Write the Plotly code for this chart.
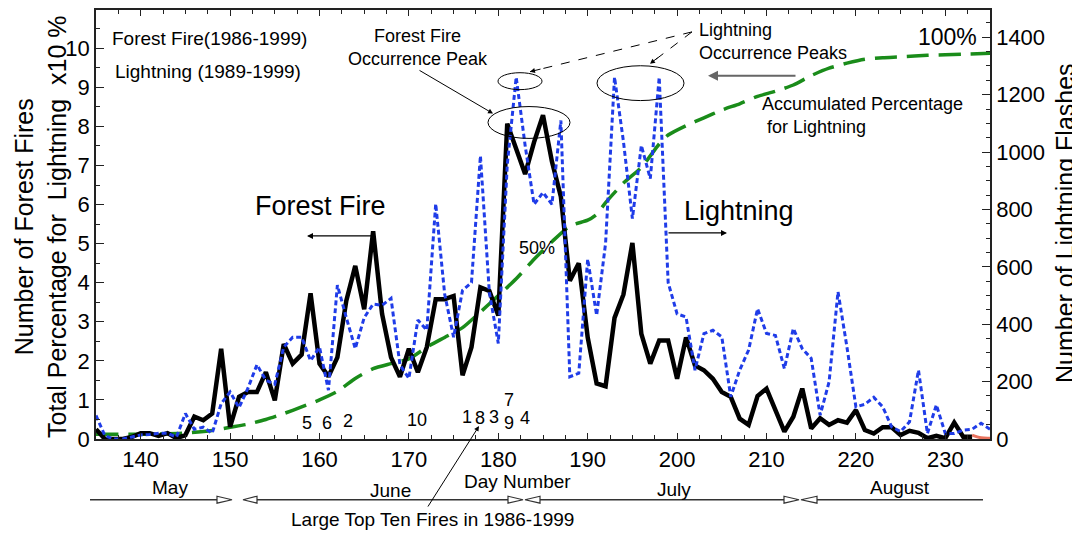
import plotly.graph_objects as go

# ---------------- data ----------------
fire_days = list(range(135, 234))
forest_fires = [0.25, 0.0, 0.0, 0.0, 0.05, 0.15, 0.15, 0.08, 0.15, 0.02,
                0.1, 0.57, 0.48, 0.65, 2.31, 0.31, 1.08, 1.2, 1.2, 1.71,
                0.99, 2.43, 1.93, 2.16, 3.73, 1.93, 1.6, 2.09, 3.54, 4.43,
                3.32, 5.32, 3.2, 2.09, 1.59, 2.31, 1.71, 2.35, 3.58, 3.58,
                3.66, 1.63, 2.35, 3.88, 3.79, 3.16, 8.07, 7.45, 6.78, 7.6,
                8.29, 7.1, 6.2, 4.05, 4.5, 2.6, 1.42, 1.35, 3.1, 3.7,
                5.02, 2.69, 1.93, 2.52, 2.52, 1.54, 2.6, 1.88, 1.76, 1.54,
                1.2, 1.08, 0.52, 0.36, 1.1, 1.29, 0.75, 0.19, 0.57, 1.29,
                0.27, 0.53, 0.36, 0.48, 0.42, 0.74, 0.23, 0.14, 0.3, 0.3,
                0.1, 0.21, 0.16, 0.02, 0.08, 0.02, 0.42, 0.06, 0.06]

lightning_days = list(range(135, 236))
lightning_flashes = [82, 11, 0, 0, 7, 14, 16, 20, 20, 7,
                     89, 34, 41, 20, 123, 164, 109, 177, 259, 205,
                     191, 320, 355, 355, 273, 320, 170, 536, 423, 315,
                     423, 470, 466, 490, 259, 211, 415, 379, 820, 505,
                     355, 518, 545, 987, 511, 333, 955, 1261, 1023, 818,
                     859, 818, 1110, 217, 229, 627, 431, 682, 1261, 1036,
                     768, 1023, 907, 1261, 545, 436, 425, 240, 367, 379,
                     356, 147, 240, 310, 454, 368, 361, 245, 385, 315,
                     281, 83, 199, 513, 320, 112, 121, 145, 112, 42,
                     26, 60, 240, 19, 119, 19, 19, 31, 34, 55,
                     34]

cum_days = [135, 140, 145, 148, 150, 152, 154, 156, 158, 160, 162, 164, 166, 168, 170,
            172, 174, 176, 178, 180, 182, 184, 186, 188, 190, 191, 192, 194, 196, 198,
            199, 201, 203, 205, 207, 209, 211, 213, 215, 217, 219, 221, 223, 225, 228,
            232, 235]
cum_pct = [1.2, 1.2, 1.5, 2.2, 3.0, 3.8, 5.0, 6.5, 8.2, 10.0, 12.2, 15.5, 18.0, 19.3, 20.5,
           23.5, 26.0, 28.5, 32.5, 36.7, 41.0, 46.0, 50.5, 54.5, 56.0, 57.5, 60.5, 65.5, 69.5, 75.5,
           77.8, 80.2, 82.2, 84.2, 85.8, 87.7, 89.0, 90.6, 93.0, 94.9, 96.2, 97.2, 97.6, 97.8, 98.2,
           98.5, 98.7]

tail_days = [233, 234, 235]
tail_vals = [0.1, 0.03, 0.02]

top_ten_labels = ["5", "6", "2", "10", "1", "8", "3", "7", "9", "4"]
month_labels = ["May", "June", "July", "August"]

# ---------------- figure ----------------
FONT = "Liberation Sans, Arial, sans-serif"
fig = go.Figure()

fig.add_trace(go.Scatter(x=cum_days, y=[p / 10 for p in cum_pct], mode="lines",
                         line=dict(color="#1a8c1a", width=3.5, dash="22px,10px", shape="spline", smoothing=0.6),
                         hoverinfo="skip"))
fig.add_trace(go.Scatter(x=lightning_days, y=lightning_flashes, mode="lines", yaxis="y2",
                         line=dict(color="#1f3ce8", width=3, dash="5px,3px")))
fig.add_trace(go.Scatter(x=fire_days, y=forest_fires, mode="lines",
                         line=dict(color="black", width=4.5)))
fig.add_trace(go.Scatter(x=tail_days, y=tail_vals, mode="lines",
                         line=dict(color="#e8735e", width=3, shape="spline")))

# reference-pixel -> paper helper (plot area in the reference: x 96..990, y 8..439)
def P(x, y):
    return (x - 96) / 894, (439 - y) / 431

def txt(s, x, y, size, xanchor="center", align="center", angle=0):
    px_, py_ = P(x, y)
    return dict(text=s, x=px_, y=py_, xref="paper", yref="paper", showarrow=False,
                xanchor=xanchor, yanchor="middle", align=align, textangle=angle,
                font=dict(size=size, family=FONT, color="black"))

def arrow(tail, tip, color="black", width=1.2, head=2, size=1.0):
    x, y = P(*tip)
    return dict(x=x, y=y, xref="paper", yref="paper", ax=tail[0] - tip[0], ay=tail[1] - tip[1],
                axref="pixel", ayref="pixel", text="", showarrow=True, arrowhead=head,
                arrowsize=size, arrowwidth=width, arrowcolor=color, standoff=0, startstandoff=0)

ann = []
ann.append(txt("Number of Forest Fires<br>Total Percentage for\u00a0\u00a0Lightning\u00a0\u00a0x10 %", 41, 226, 25, angle=-90))
ann.append(txt("Number of Lightning Flashes", 1065, 222, 25, angle=-90))
ann.append(txt("Forest Fire(1986-1999)", 110, 37, 19, xanchor="left"))
ann.append(txt("Lightning (1989-1999)", 113, 70, 19, xanchor="left"))
ann.append(txt("Forest Fire<br>Occurrence Peak", 418, 46, 18))
ann.append(txt("Lightning<br>Occurrence Peaks", 697, 40, 18, xanchor="left", align="left"))
ann.append(txt("Accumulated Percentage<br>\u00a0for Lightning", 760, 114, 18, xanchor="left", align="left"))
ann.append(txt("100%", 979, 35, 23, xanchor="right"))
ann.append(txt("Forest Fire", 320, 205, 27))
ann.append(txt("Lightning", 739, 210, 27))
ann.append(txt("50%", 537, 247, 18))
rank_pos = [(307, 423), (327, 423), (348, 421), (417, 420), (467, 417), (480, 418),
            (494, 417), (509, 400), (509, 423), (525, 418)]
for lab, (x, y) in zip(top_ten_labels, rank_pos):
    ann.append(txt(lab, x, y, 18))
ann.append(txt("Day Number", 517, 482, 19))
for lab, (x, y) in zip(month_labels, [(170, 488), (390, 491), (674, 490), (900, 488)]):
    ann.append(txt(lab, x, y, 19))
ann.append(txt("Large Top Ten Fires in 1986-1999", 432, 520, 19))

# arrows
ann.append(arrow((373, 235), (307, 235)))
ann.append(arrow((667, 232), (727, 232)))
ann.append(arrow((797, 74), (708, 74), color="#666666", width=2))
ann.append(arrow((418, 68), (493, 112), width=1))
ann.append(arrow((427, 508), (479, 426), width=1))
ann.append(arrow((542, 67), (530, 70), width=1))
ann.append(arrow((659, 55), (650, 62), width=1))

shapes = []
def ellipse(x0, y0, x1, y1):
    a, b = P(x0, y0)
    c, d = P(x1, y1)
    return dict(type="circle", xref="paper", yref="paper", x0=a, y0=b, x1=c, y1=d,
                line=dict(color="black", width=1))

shapes += [ellipse(498, 71, 542, 88), ellipse(488, 105, 570, 137), ellipse(597, 64, 684, 99)]

def seg(p0, p1, color="black", width=1, dash="solid"):
    a, b = P(*p0)
    c, d = P(*p1)
    return dict(type="line", xref="paper", yref="paper", x0=a, y0=b, x1=c, y1=d,
                line=dict(color=color, width=width, dash=dash))

shapes.append(seg((692, 30), (530, 70), dash="dash"))
shapes.append(seg((692, 30), (650, 62), dash="dash"))

# month bar
MY = 500
for x0, x1 in [(90, 217), (257, 508), (540, 784), (817, 983)]:
    shapes.append(seg((x0, MY), (x1, MY), color="#333333", width=1.5))

def tri(base, tip):
    pts = [P(base, MY - 3.5), P(tip, MY), P(base, MY + 3.5)]
    path = "M {} {} L {} {} L {} {} Z".format(pts[0][0], pts[0][1], pts[1][0], pts[1][1], pts[2][0], pts[2][1])
    return dict(type="path", xref="paper", yref="paper", path=path, fillcolor="white",
                line=dict(color="#333333", width=1.2))

for base, tip in [(217, 232), (257, 243), (508, 523), (540, 525), (784, 799), (817, 801)]:
    shapes.append(tri(base, tip))

axis_common = dict(showline=True, linecolor="#222222", linewidth=1.5, showgrid=False, zeroline=False,
                   ticks="inside", tickcolor="#222222", tickfont=dict(size=22, family=FONT, color="black"))

# the page body adds an 8px offset, so the figure is 8px smaller and shifted
fig.update_layout(
    width=1072, height=525, margin=dict(l=88, r=90, t=0, b=94),
    paper_bgcolor="white", plot_bgcolor="white", showlegend=False,
    font=dict(family=FONT, size=18, color="black"),
    xaxis=dict(range=[135, 235], tickmode="linear", tick0=140, dtick=10, ticklen=6, mirror="ticks",
               minor=dict(dtick=2.5, tick0=135, ticks="inside", ticklen=4, tickcolor="#222222", showgrid=False),
               **axis_common),
    yaxis=dict(range=[0, 10.98], tickmode="linear", tick0=0, dtick=1, ticklen=8,
               minor=dict(dtick=0.5, ticks="inside", ticklen=4, tickcolor="#222222", showgrid=False),
               **axis_common),
    yaxis2=dict(range=[0, 1495], overlaying="y", side="right", tickmode="linear", tick0=0, dtick=200,
                ticklen=8, minor=dict(dtick=50, ticks="inside", ticklen=4, tickcolor="#222222", showgrid=False),
                **axis_common),
    annotations=ann, shapes=shapes,
)

fig.write_html("out.html")
